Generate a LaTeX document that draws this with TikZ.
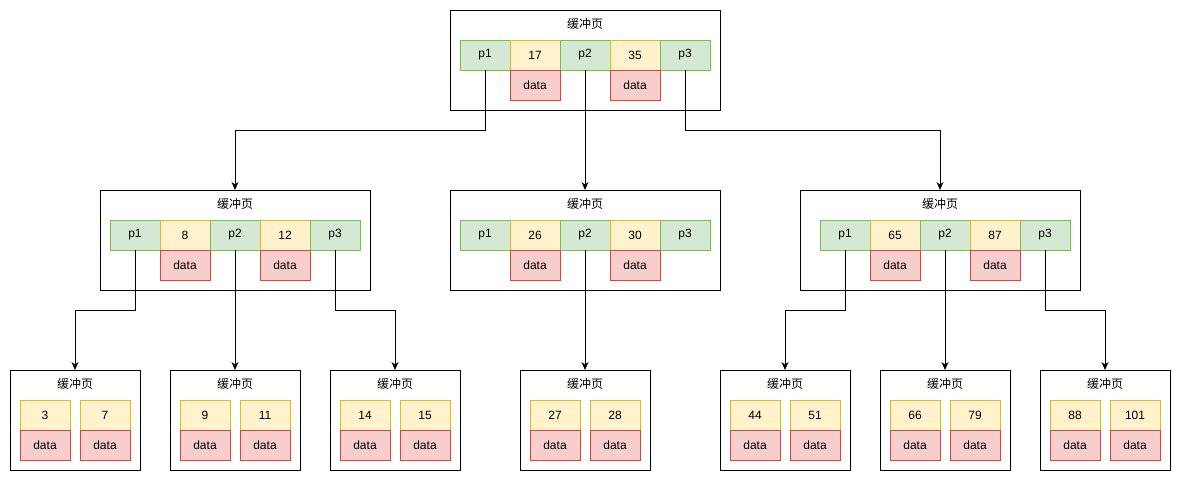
\documentclass[tikz,border=0pt]{standalone}
\usepackage{fontspec}
\setmainfont{Liberation Sans}
\newfontfamily\cjk{Noto Sans CJK SC}
\usetikzlibrary{arrows.meta}
\definecolor{gfill}{HTML}{D5E8D4}
\definecolor{gline}{HTML}{82B366}
\definecolor{yfill}{HTML}{FFF2CC}
\definecolor{yline}{HTML}{D6B656}
\definecolor{rfill}{HTML}{F8CECC}
\definecolor{rline}{HTML}{B85450}
\newcommand\ipage[7]{%
  \node[pagebox, minimum width=#4] (#1) at (#2,#3) {};
  \node[ttl] (#1t) at ([yshift=-14pt]#1.north) {\cjk 缓冲页};
  \node[cg, anchor=north west] (#1p1) at ([xshift=#5pt, yshift=-30pt]#1.north west) {p1};
  \node[cy, anchor=west] (#1k1) at (#1p1.east) {#6};
  \node[cg, anchor=west] (#1p2) at (#1k1.east) {p2};
  \node[cy, anchor=west] (#1k2) at (#1p2.east) {#7};
  \node[cg, anchor=west] (#1p3) at (#1k2.east) {p3};
  \node[cr, anchor=north] (#1d1) at (#1k1.south) {data};
  \node[cr, anchor=north] (#1d2) at (#1k2.south) {data};
}
\newcommand\lpage[4]{%
  \node[pagebox, minimum width=130] (#1) at (#2,370) {};
  \node[ttl] (#1t) at ([yshift=-14pt]#1.north) {\cjk 缓冲页};
  \node[cy, anchor=north west] (#1k1) at ([xshift=10pt, yshift=-30pt]#1.north west) {#3};
  \node[cy, anchor=north west] (#1k2) at ([xshift=70pt, yshift=-30pt]#1.north west) {#4};
  \node[cr, anchor=north] (#1d1) at (#1k1.south) {data};
  \node[cr, anchor=north] (#1d2) at (#1k2.south) {data};
}
\begin{document}
\begin{tikzpicture}[x=1pt,y=-1pt,
  every node/.style={font=\fontsize{12}{14}\selectfont, inner sep=0pt, outer sep=0pt},
  pagebox/.style={draw=black, line width=1pt, fill=white, anchor=north west, minimum height=100},
  ttl/.style={},
  cell/.style={line width=1pt, minimum width=50, minimum height=30},
  cg/.style={cell, draw=gline, fill=gfill},
  cy/.style={cell, draw=yline, fill=yfill},
  cr/.style={cell, draw=rline, fill=rfill},
  conn/.style={draw=black, line width=1pt, -{Stealth[length=8pt, width=7pt, inset=2.5pt]}}]
\useasboundingbox (0,0) rectangle (1181,482);
\ipage{T}{450}{10}{270}{10}{17}{35}
\ipage{L}{100}{190}{270}{10}{8}{12}
\ipage{C}{450}{190}{270}{10}{26}{30}
\ipage{R}{800}{190}{280}{20}{65}{87}
\lpage{A}{10}{3}{7}
\lpage{B}{170}{9}{11}
\lpage{D}{330}{14}{15}
\lpage{E}{520}{27}{28}
\lpage{F}{720}{44}{51}
\lpage{G}{880}{66}{79}
\lpage{H}{1040}{88}{101}
\draw[conn] (Tp1.south) -- ++(0,60) -| (L.north);
\draw[conn] (Tp2.south) -- (C.north);
\draw[conn] (Tp3.south) -- ++(0,60) -| (R.north);
\draw[conn] (Lp1.south) -- ++(0,60) -| (A.north);
\draw[conn] (Lp2.south) -- (B.north);
\draw[conn] (Lp3.south) -- ++(0,60) -| (D.north);
\draw[conn] (Cp2.south) -- (E.north);
\draw[conn] (Rp1.south) -- ++(0,60) -| (F.north);
\draw[conn] (Rp2.south) -- (G.north);
\draw[conn] (Rp3.south) -- ++(0,60) -| (H.north);
\end{tikzpicture}
\end{document}
